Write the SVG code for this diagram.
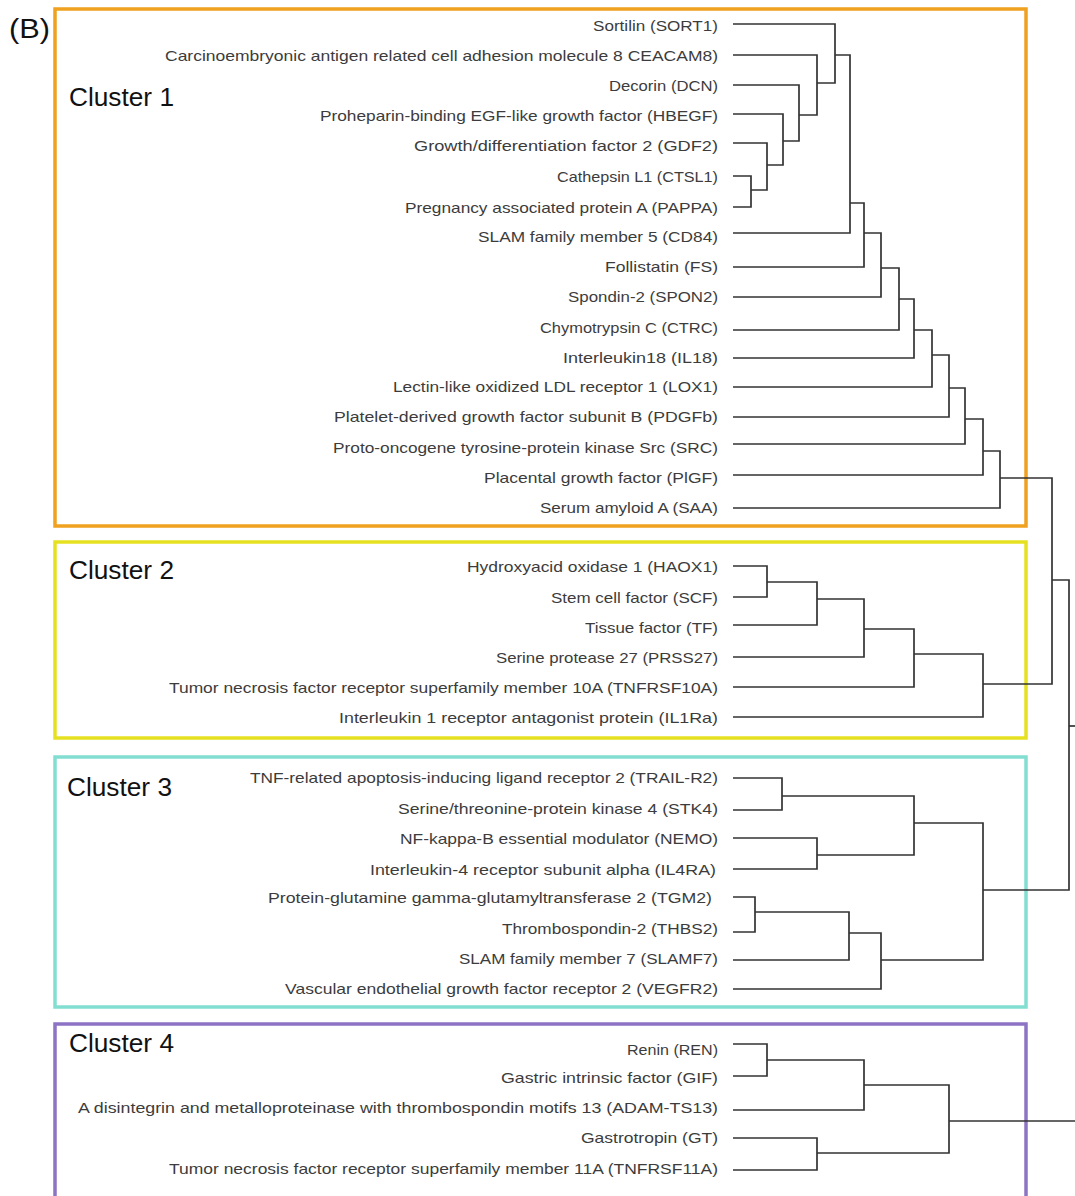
<svg xmlns="http://www.w3.org/2000/svg" width="1075" height="1196" viewBox="0 0 1075 1196">
<style>
.bg{fill:#ffffff}
.box{fill:none;stroke-width:3.5}
.c1{stroke:#EFA11F}
.c2{stroke:#E6E120}
.c3{stroke:#82DED1}
.c4{stroke:#8C73C4}
.ctitle{font-family:"Liberation Sans",Arial,sans-serif;font-size:25px;fill:#111111}
.lbl{font-family:"Liberation Sans",Arial,sans-serif;font-size:14.5px;fill:#3c3c3c;text-anchor:end}
.tag{font-family:"Liberation Sans",Arial,sans-serif;font-size:27px;fill:#111111}
#connectors path{fill:none;stroke:#333333;stroke-width:1.7}
</style>
<rect class="bg" x="0" y="0" width="1075" height="1196"/>
<text class="tag" x="9" y="38" textLength="41" lengthAdjust="spacingAndGlyphs">(B)</text>

<g id="cluster1">
<rect class="box c1" x="55" y="9" width="971" height="517"/>
<text class="ctitle" x="69" y="106" textLength="105" lengthAdjust="spacingAndGlyphs">Cluster 1</text>
</g>
<g id="cluster2">
<rect class="box c2" x="55" y="542" width="971" height="196"/>
<text class="ctitle" x="69" y="579" textLength="105" lengthAdjust="spacingAndGlyphs">Cluster 2</text>
</g>
<g id="cluster3">
<rect class="box c3" x="55" y="757" width="971" height="250"/>
<text class="ctitle" x="67" y="796" textLength="105" lengthAdjust="spacingAndGlyphs">Cluster 3</text>
</g>
<g id="cluster4">
<rect class="box c4" x="55" y="1024" width="971" height="200"/>
<text class="ctitle" x="69" y="1052" textLength="105" lengthAdjust="spacingAndGlyphs">Cluster 4</text>
</g>

<g id="leaf-SORT1"><text class="lbl" x="718" y="31" textLength="125" lengthAdjust="spacingAndGlyphs">Sortilin (SORT1)</text></g>
<g id="leaf-CEACAM8"><text class="lbl" x="718" y="61" textLength="553" lengthAdjust="spacingAndGlyphs">Carcinoembryonic antigen related cell adhesion molecule 8  CEACAM8)</text></g>
<g id="leaf-DCN"><text class="lbl" x="718" y="91" textLength="109" lengthAdjust="spacingAndGlyphs">Decorin (DCN)</text></g>
<g id="leaf-HBEGF"><text class="lbl" x="718" y="121" textLength="398" lengthAdjust="spacingAndGlyphs">Proheparin-binding EGF-like growth  factor (HBEGF)</text></g>
<g id="leaf-GDF2"><text class="lbl" x="718" y="151" textLength="304" lengthAdjust="spacingAndGlyphs">Growth/differentiation factor 2 (GDF2)</text></g>
<g id="leaf-CTSL1"><text class="lbl" x="718" y="182" textLength="161" lengthAdjust="spacingAndGlyphs">Cathepsin L1 (CTSL1)</text></g>
<g id="leaf-PAPPA"><text class="lbl" x="718" y="213" textLength="313" lengthAdjust="spacingAndGlyphs">Pregnancy associated protein A (PAPPA)</text></g>
<g id="leaf-CD84"><text class="lbl" x="718" y="242" textLength="240" lengthAdjust="spacingAndGlyphs">SLAM  family member  5 (CD84)</text></g>
<g id="leaf-FS"><text class="lbl" x="718" y="272" textLength="113" lengthAdjust="spacingAndGlyphs">Follistatin (FS)</text></g>
<g id="leaf-SPON2"><text class="lbl" x="718" y="302" textLength="150" lengthAdjust="spacingAndGlyphs">Spondin-2 (SPON2)</text></g>
<g id="leaf-CTRC"><text class="lbl" x="718" y="333" textLength="178" lengthAdjust="spacingAndGlyphs">Chymotrypsin C (CTRC)</text></g>
<g id="leaf-IL18"><text class="lbl" x="718" y="363" textLength="155" lengthAdjust="spacingAndGlyphs">Interleukin18 (IL18)</text></g>
<g id="leaf-LOX1"><text class="lbl" x="718" y="392" textLength="325" lengthAdjust="spacingAndGlyphs">Lectin-like oxidized LDL  receptor 1 (LOX1)</text></g>
<g id="leaf-PDGFb"><text class="lbl" x="718" y="422" textLength="384" lengthAdjust="spacingAndGlyphs">Platelet-derived growth  factor subunit B (PDGFb)</text></g>
<g id="leaf-SRC"><text class="lbl" x="718" y="453" textLength="385" lengthAdjust="spacingAndGlyphs">Proto-oncogene  tyrosine-protein kinase Src (SRC)</text></g>
<g id="leaf-PlGF"><text class="lbl" x="718" y="483" textLength="234" lengthAdjust="spacingAndGlyphs">Placental growth factor (PlGF)</text></g>
<g id="leaf-SAA"><text class="lbl" x="718" y="513" textLength="178" lengthAdjust="spacingAndGlyphs">Serum  amyloid A (SAA)</text></g>

<g id="leaf-HAOX1"><text class="lbl" x="718" y="572" textLength="251" lengthAdjust="spacingAndGlyphs">Hydroxyacid oxidase 1  (HAOX1)</text></g>
<g id="leaf-SCF"><text class="lbl" x="718" y="603" textLength="167" lengthAdjust="spacingAndGlyphs">Stem  cell factor (SCF)</text></g>
<g id="leaf-TF"><text class="lbl" x="718" y="633" textLength="133" lengthAdjust="spacingAndGlyphs">Tissue factor (TF)</text></g>
<g id="leaf-PRSS27"><text class="lbl" x="718" y="663" textLength="222" lengthAdjust="spacingAndGlyphs">Serine protease 27 (PRSS27)</text></g>
<g id="leaf-TNFRSF10A"><text class="lbl" x="718" y="693" textLength="549" lengthAdjust="spacingAndGlyphs">Tumor  necrosis factor receptor superfamily member  10A (TNFRSF10A)</text></g>
<g id="leaf-IL1Ra"><text class="lbl" x="718" y="723" textLength="379" lengthAdjust="spacingAndGlyphs">Interleukin 1 receptor antagonist protein (IL1Ra)</text></g>

<g id="leaf-TRAIL-R2"><text class="lbl" x="718" y="783" textLength="468" lengthAdjust="spacingAndGlyphs">TNF-related  apoptosis-inducing ligand receptor 2 (TRAIL-R2)</text></g>
<g id="leaf-STK4"><text class="lbl" x="718" y="814" textLength="320" lengthAdjust="spacingAndGlyphs">Serine/threonine-protein  kinase 4 (STK4)</text></g>
<g id="leaf-NEMO"><text class="lbl" x="718" y="844" textLength="318" lengthAdjust="spacingAndGlyphs">NF-kappa-B essential modulator (NEMO)</text></g>
<g id="leaf-IL4RA"><text class="lbl" x="716" y="875" textLength="346" lengthAdjust="spacingAndGlyphs">Interleukin-4 receptor  subunit alpha (IL4RA)</text></g>
<g id="leaf-TGM2"><text class="lbl" x="712" y="903" textLength="444" lengthAdjust="spacingAndGlyphs">Protein-glutamine gamma-glutamyltransferase 2 (TGM2)</text></g>
<g id="leaf-THBS2"><text class="lbl" x="718" y="934" textLength="216" lengthAdjust="spacingAndGlyphs">Thrombospondin-2 (THBS2)</text></g>
<g id="leaf-SLAMF7"><text class="lbl" x="718" y="964" textLength="259" lengthAdjust="spacingAndGlyphs">SLAM  family member  7 (SLAMF7)</text></g>
<g id="leaf-VEGFR2"><text class="lbl" x="718" y="994" textLength="433" lengthAdjust="spacingAndGlyphs">Vascular endothelial growth factor receptor  2 (VEGFR2)</text></g>

<g id="leaf-REN"><text class="lbl" x="718" y="1055" textLength="91" lengthAdjust="spacingAndGlyphs">Renin (REN)</text></g>
<g id="leaf-GIF"><text class="lbl" x="718" y="1083" textLength="217" lengthAdjust="spacingAndGlyphs">Gastric intrinsic factor (GIF)</text></g>
<g id="leaf-ADAM-TS13"><text class="lbl" x="718" y="1113" textLength="640" lengthAdjust="spacingAndGlyphs">A disintegrin and metalloproteinase with thrombospondin motifs 13 (ADAM-TS13)</text></g>
<g id="leaf-GT"><text class="lbl" x="718" y="1143" textLength="137" lengthAdjust="spacingAndGlyphs">Gastrotropin (GT)</text></g>
<g id="leaf-TNFRSF11A"><text class="lbl" x="718" y="1174" textLength="549" lengthAdjust="spacingAndGlyphs">Tumor  necrosis factor receptor superfamily member  11A (TNFRSF11A)</text></g>

<g id="connectors">
<path d="M733 176H751V207H733"/>
<path d="M733 143H767V190H751"/>
<path d="M733 114H783V165H767"/>
<path d="M733 85H799V141H783"/>
<path d="M733 55H817V115H799"/>
<path d="M733 24H835V83H817"/>
<path d="M835 55H850V233H733"/>
<path d="M850 203H864V267H733"/>
<path d="M864 233H881V297H733"/>
<path d="M881 268H899V330H733"/>
<path d="M899 299H914V358H733"/>
<path d="M914 330H932V387H733"/>
<path d="M932 355H949V417H733"/>
<path d="M949 388H965V444H733"/>
<path d="M965 419H983V475H733"/>
<path d="M983 451H1000V508H733"/>

<path d="M733 566H767V597H733"/>
<path d="M767 582H817V625H733"/>
<path d="M817 599H864V657H733"/>
<path d="M864 629H914V687H733"/>
<path d="M914 654H983V717H733"/>
<path d="M1000 478H1052V684H983"/>

<path d="M733 778H782V810H733"/>
<path d="M733 838H817V869H733"/>
<path d="M782 796H914V855H817"/>
<path d="M733 897H755V932H733"/>
<path d="M755 912H849V960H733"/>
<path d="M849 933H881V989H733"/>
<path d="M914 823H983V960H881"/>
<path d="M1052 580H1069V890H983"/>
<path d="M1069 726H1080"/>

<path d="M733 1044H767V1076H733"/>
<path d="M767 1060H864V1110H733"/>
<path d="M733 1138H817V1170H733"/>
<path d="M864 1085H949V1153H817"/>
<path d="M949 1121H1080"/>
</g>
</svg>
